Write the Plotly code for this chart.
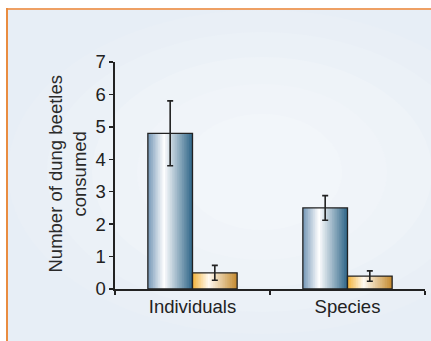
import plotly.graph_objects as go

# ---- data ----
categories = ["Individuals", "Species"]
series_a_values = [4.8, 2.5]      # blue bars
series_a_errors = [1.0, 0.38]
series_b_values = [0.5, 0.4]      # gold bars
series_b_errors = [0.23, 0.16]
y_ticks = [0, 1, 2, 3, 4, 5, 6, 7]

# ---- layout geometry (page pixels) ----
W, H = 431, 341
PL, PR, PT, PB = 115, 425, 62, 289      # plot area edges
ML, MR, MT, MB = PL, W - PR, PT, H - PB
PW, PH = PR - PL, PB - PT


def px_x(px):
    return (px - PL) / PW


def px_y(py):
    return (PB - py) / PH


def hex2rgb(h):
    h = h.lstrip("#")
    return [int(h[i:i + 2], 16) for i in (0, 2, 4)]


def grad(stops, t):
    for (t0, c0), (t1, c1) in zip(stops, stops[1:]):
        if t0 <= t <= t1:
            f = (t - t0) / (t1 - t0) if t1 > t0 else 0
            a, b = hex2rgb(c0), hex2rgb(c1)
            return "rgb(%d,%d,%d)" % tuple(round(a[i] + (b[i] - a[i]) * f) for i in range(3))
    return stops[-1][1]


blue_stops = [(0.0, "#7396b6"), (0.36, "#ffffff"), (1.0, "#2d6487")]
gold_stops = [(0.0, "#f2b23a"), (0.36, "#fffbf2"), (1.0, "#c4892d")]

BW = 0.288
N = 26
fig = go.Figure()

for vals, errs, stops, base in [
    (series_a_values, series_a_errors, blue_stops, -BW),
    (series_b_values, series_b_errors, gold_stops, 0.0),
]:
    sw = BW / N
    for k in range(N):
        t = (k + 0.5) / N
        fig.add_trace(go.Bar(
            x=categories, y=vals, offset=base + k * sw,
            width=min(sw * 1.6, BW - k * sw),
            marker=dict(color=grad(stops, t), line=dict(width=0)),
            hoverinfo="skip", showlegend=False,
        ))
    fig.add_trace(go.Bar(
        x=categories, y=vals, offset=base, width=BW,
        marker=dict(color="rgba(0,0,0,0)", line=dict(color="#222222", width=1.3)),
        error_y=dict(type="data", array=errs, visible=True,
                     color="#222222", thickness=1.6, width=3),
        hoverinfo="skip", showlegend=False,
    ))

# ---- background panel (soft radial light) ----
shapes = [dict(type="rect", xref="paper", yref="paper",
               x0=px_x(7), x1=px_x(W + 2), y0=px_y(H + 2), y1=px_y(9),
               fillcolor="#e7eef6", line=dict(width=0), layer="below")]
cx, cy = 262, 172
for rx, ry, col in [
    (254, 162, "#e9eff6"), (215, 140, "#ebf1f7"), (170, 115, "#eef3f8"),
    (125, 88, "#f0f4f9"), (80, 58, "#f2f6fa")]:
    shapes.append(dict(type="circle", xref="paper", yref="paper",
                       x0=px_x(cx - rx), x1=px_x(cx + rx),
                       y0=px_y(cy + ry), y1=px_y(cy - ry),
                       fillcolor=col, line=dict(width=0), layer="below"))
shapes.append(dict(type="line", xref="paper", yref="paper",
                   x0=px_x(6), x1=px_x(W + 2), y0=px_y(9), y1=px_y(9),
                   line=dict(color="#eea064", width=2), layer="above"))
shapes.append(dict(type="line", xref="paper", yref="paper",
                   x0=px_x(7), x1=px_x(7), y0=px_y(8), y1=px_y(H + 2),
                   line=dict(color="#e98c40", width=2), layer="above"))

fig.update_layout(
    width=W, height=H,
    margin=dict(l=ML, r=MR, t=MT, b=MB, pad=0),
    paper_bgcolor="white", plot_bgcolor="rgba(0,0,0,0)",
    barmode="overlay",
    hovermode=False,
    font=dict(family="Liberation Sans, Arial, sans-serif", size=18, color="#222222"),
    shapes=shapes,
    xaxis=dict(type="category", range=[-0.5, 1.5], showline=True, linecolor="#222222",
               linewidth=1.6, ticks="outside", tickson="boundaries", ticklen=4,
               tickcolor="#222222", tickwidth=1.4, showgrid=False, zeroline=False,
               tickfont=dict(size=18.5, color="#222222"), fixedrange=True),
    yaxis=dict(range=[0, 7], tickvals=y_ticks, showline=True, linecolor="#222222",
               linewidth=1.6, ticks="outside", ticklen=4, tickcolor="#222222",
               tickwidth=1.4, showgrid=False, zeroline=False,
               tickfont=dict(size=18.5, color="#222222"), fixedrange=True),
    annotations=[dict(text="Number of dung beetles<br>consumed", textangle=-90,
                      xref="paper", yref="paper", x=px_x(66.5), y=px_y(174),
                      xanchor="center", yanchor="middle", showarrow=False,
                      font=dict(size=18.5, color="#2a2a2a"))],
)

fig.write_html(
    "out.html",
    config={"displayModeBar": False, "staticPlot": True},
    post_script="document.body.style.margin='0';document.body.style.overflow='hidden';",
)
